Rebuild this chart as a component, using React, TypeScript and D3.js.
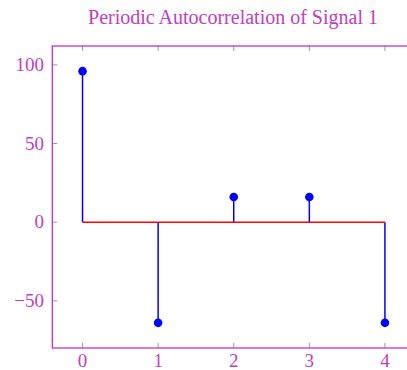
import * as d3 from 'd3'

const lags = [0, 1, 2, 3, 4]
const values = [96, -64, 16, 16, -64]
const xTicks = [0, 1, 2, 3, 4]
const yTicks = [-50, 0, 50, 100]
const title = 'Periodic Autocorrelation of Signal 1'

export default function App() {
  const width = 407
  const height = 370
  const left = 52.3
  const top = 46
  const bottom = 348

  const x = d3.scaleLinear().domain([-0.4, 4.4]).range([left, left + 4.8 * 75.6])
  const y = d3.scaleLinear().domain([-80, 112]).range([bottom, top])

  const axisColor = '#c020c0'
  const textColor = '#c040c0'
  const font = '"Liberation Serif", "Times New Roman", serif'
  const [x0, x1] = x.range()

  return (
    <svg
      width={width}
      height={height}
      style={{ position: 'absolute', left: 0, top: 0, background: '#fff' }}
      fontFamily={font}
    >
      <text x={233} y={24} textAnchor="middle" fontSize={20} fill={textColor}>
        {title}
      </text>

      {/* ticks */}
      {xTicks.map(t => (
        <g key={'xt' + t}>
          <line x1={x(t)} x2={x(t)} y1={bottom} y2={bottom - 5} stroke="#999" strokeWidth={1} />
          <line x1={x(t)} x2={x(t)} y1={top} y2={top + 5} stroke="#999" strokeWidth={1} />
          <text x={x(t)} y={366.5} textAnchor="middle" fontSize={19} fill={textColor}>
            {t}
          </text>
        </g>
      ))}
      {yTicks.map(t => (
        <g key={'yt' + t}>
          <line x1={left} x2={left + 5} y1={y(t)} y2={y(t)} stroke="#999" strokeWidth={1} />
          <text x={44} y={y(t)} dy="0.33em" textAnchor="end" fontSize={19} fill={textColor}>
            {t < 0 ? '\u2212' + Math.abs(t) : t}
          </text>
        </g>
      ))}

      {/* stems */}
      {lags.map((l, i) => (
        <line key={'s' + l} x1={x(l)} x2={x(l)} y1={y(0)} y2={y(values[i])} stroke="#0000ff" strokeWidth={1.5} />
      ))}

      {/* baseline */}
      <line x1={x(0)} x2={x(4)} y1={y(0)} y2={y(0)} stroke="#ff0000" strokeWidth={1.5} />

      {/* markers */}
      {lags.map((l, i) => (
        <circle key={'m' + l} cx={x(l)} cy={y(values[i])} r={4.3} fill="#0000ff" />
      ))}

      <rect x={x0} y={top} width={x1 - x0} height={bottom - top} fill="none" stroke={axisColor} strokeWidth={1.2} />
    </svg>
  )
}
